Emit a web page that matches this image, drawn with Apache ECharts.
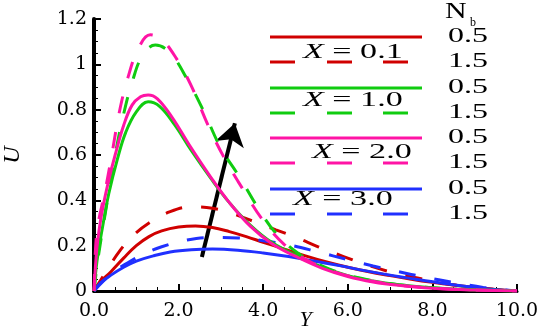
<!DOCTYPE html>
<html>
<head>
<meta charset="utf-8">
<script src="https://cdn.jsdelivr.net/npm/echarts@6/dist/echarts.min.js"></script>
<style>html,body{margin:0;padding:0;background:#fff;}#c{width:550px;height:332px;}</style>
</head>
<body>
<div id="c"></div>
<script>
// ---- data (Y, U) ----
var xTickLabels = ['0.0','2.0','4.0','6.0','8.0','10.0'];
var yTickLabels = ['0','0.2','0.4','0.6','0.8','1','1.2'];
var legendX = ['X = 0.1','X = 1.0','X = 2.0','X = 3.0'];
var nbValues = ['0.5','1.5'];

var redSolid = [[0,0],[0.15,0.04],[0.4,0.085],[0.7,0.145],[1.0,0.2],[1.3,0.24],[1.6,0.265],[2.0,0.282],[2.4,0.287],[2.8,0.28],[3.2,0.262],[3.6,0.24],[4.0,0.215],[4.5,0.185],[5.0,0.155],[5.5,0.128],[6.0,0.105],[6.5,0.085],[7.0,0.068],[7.5,0.052],[8.0,0.038],[8.5,0.026],[9.0,0.016],[9.5,0.007],[10,0]];
var redDashed = [[0,0],[0.3,0.09],[0.6,0.175],[0.9,0.24],[1.3,0.3],[1.8,0.35],[2.3,0.371],[2.8,0.365],[3.3,0.34],[3.8,0.305],[4.3,0.27],[4.8,0.235],[5.3,0.195],[5.9,0.152],[6.5,0.112],[7.1,0.08],[7.7,0.055],[8.3,0.033],[9.0,0.015],[10,0]];
var greenSolid = [[0,0],[0.05,0.1],[0.1,0.17],[0.2,0.28],[0.35,0.43],[0.55,0.58],[0.75,0.7],[1.0,0.79],[1.28,0.835],[1.55,0.815],[1.9,0.735],[2.3,0.62],[2.75,0.5],[3.2,0.39],[3.7,0.29],[4.2,0.215],[4.8,0.155],[5.4,0.105],[6.0,0.068],[6.6,0.044],[7.2,0.028],[8.0,0.014],[9.0,0.005],[10,0]];
var greenDashed = [[0,0],[0.05,0.08],[0.1,0.15],[0.3,0.38],[0.5,0.6],[0.7,0.78],[0.9,0.92],[1.15,1.04],[1.45,1.085],[1.8,1.05],[2.2,0.935],[2.6,0.79],[3.0,0.63],[3.45,0.5],[3.9,0.36],[4.3,0.255],[4.8,0.17],[5.4,0.11],[6.0,0.07],[6.6,0.045],[7.2,0.028],[8.0,0.014],[9.0,0.005],[10,0]];
var pinkSolid = [[0,0],[0.05,0.15],[0.1,0.24],[0.2,0.36],[0.35,0.49],[0.5,0.6],[0.7,0.73],[0.9,0.82],[1.1,0.857],[1.28,0.865],[1.5,0.848],[1.85,0.765],[2.25,0.645],[2.75,0.505],[3.2,0.39],[3.7,0.285],[4.2,0.21],[4.8,0.15],[5.4,0.1],[6.0,0.064],[6.6,0.04],[7.2,0.025],[8.0,0.012],[9.0,0.004],[10,0]];
var pinkDashed = [[0,0],[0.04,0.2],[0.1,0.3],[0.25,0.43],[0.42,0.6],[0.6,0.79],[0.8,0.94],[1.05,1.07],[1.33,1.13],[1.6,1.11],[1.95,1.025],[2.3,0.905],[2.7,0.73],[3.1,0.58],[3.5,0.455],[4.0,0.31],[4.5,0.205],[5.0,0.14],[5.6,0.09],[6.2,0.058],[6.8,0.036],[7.5,0.02],[8.5,0.008],[10,0]];
var blueSolid = [[0,0],[0.15,0.035],[0.4,0.07],[0.7,0.105],[1.0,0.132],[1.4,0.155],[1.8,0.172],[2.3,0.182],[2.8,0.185],[3.4,0.18],[4.0,0.168],[4.6,0.152],[5.2,0.132],[5.8,0.112],[6.4,0.09],[7.0,0.07],[7.6,0.052],[8.2,0.035],[8.8,0.02],[9.4,0.008],[10,0]];
var blueDashed = [[0,0],[0.4,0.075],[0.8,0.125],[1.2,0.165],[1.6,0.195],[2.2,0.225],[2.8,0.236],[3.4,0.234],[4.0,0.222],[4.6,0.204],[5.3,0.172],[6.0,0.138],[6.6,0.11],[7.2,0.085],[7.8,0.062],[8.5,0.038],[9.2,0.016],[10,0]];
var arrowCoords = [[2.55,0.15],[3.33,0.74]];

var colors = {red:'#d00000', green:'#10cc10', pink:'#ff14a5', blue:'#2030ff'};
var SERIF = "Liberation Serif";
var WIDE = "DejaVu Serif";

function curve(name, data, color, dashed){
  return {
    name: name, type:'line', data:data, showSymbol:false, symbol:'none',
    smooth:0.4, silent:true, animation:false,
    lineStyle:{color:color, width:3, type: dashed ? [17,19] : 'solid', cap:'butt'}
  };
}

var series = [
  curve('r05', redSolid, colors.red, false),
  curve('r15', redDashed, colors.red, true),
  curve('b05', blueSolid, colors.blue, false),
  curve('b15', blueDashed, colors.blue, true),
  curve('g05', greenSolid, colors.green, false),
  curve('g15', greenDashed, colors.green, true),
  curve('p05', pinkSolid, colors.pink, false),
  curve('p15', pinkDashed, colors.pink, true),
  {
    type:'lines', coordinateSystem:'cartesian2d', silent:true, animation:false,
    symbol:['none','arrow'], symbolSize:[15,22],
    lineStyle:{color:'#000', width:4, opacity:1},
    data:[{coords: arrowCoords}]
  }
];

// legend drawn as graphics
var legColors = [colors.red, colors.green, colors.pink, colors.blue];
var solidY = [37, 88, 138, 189];
var textPos = [[303,52],[303,100],[312,152],[293,199]];
var graphic = [];
for (var i=0;i<4;i++){
  var ys = solidY[i], yd = ys+25;
  graphic.push({type:'line', shape:{x1:270,y1:ys,x2:422,y2:ys}, style:{stroke:legColors[i], lineWidth:3}, silent:true});
  [270,327,383].forEach(function(x0){
    graphic.push({type:'line', shape:{x1:x0,y1:yd,x2:x0+25,y2:yd}, style:{stroke:legColors[i], lineWidth:3}, silent:true});
  });
  var parts = legendX[i].split(' = ');
  graphic.push({type:'text', x:textPos[i][0], y:textPos[i][1], scaleX:1.55, silent:true,
    style:{text:'{i|'+parts[0]+'} = '+parts[1], fontSize:22, fontFamily:SERIF, fill:'#000', verticalAlign:'middle', align:'left',
      rich:{i:{fontStyle:'italic', fontSize:22, fontFamily:SERIF, fill:'#000'}}}});
  graphic.push({type:'text', x:448, y:ys, scaleX:1.6, silent:true, style:{text:nbValues[0], fontSize:20, fontFamily:SERIF, fill:'#000', verticalAlign:'middle'}});
  graphic.push({type:'text', x:448, y:yd, scaleX:1.6, silent:true, style:{text:nbValues[1], fontSize:20, fontFamily:SERIF, fill:'#000', verticalAlign:'middle'}});
}
graphic.push({type:'text', x:445, y:12, scaleX:1.25, silent:true, style:{text:'N', fontSize:24, fontFamily:SERIF, fill:'#000', verticalAlign:'middle'}});
graphic.push({type:'text', x:470, y:23, silent:true, style:{text:'b', fontSize:12, fontFamily:SERIF, fill:'#000', verticalAlign:'middle'}});

var chart = echarts.init(document.getElementById('c'), null, {renderer:'canvas'});
chart.setOption({
  animation:false,
  backgroundColor:'#fff',
  grid:{left:94, right:33, top:19, bottom:41, containLabel:false, outerBoundsMode:'none'},
  xAxis:{
    type:'value', min:0, max:10, interval:2,
    name:'Y', nameLocation:'middle', nameGap:18, nameMoveOverlap:false,
    nameTextStyle:{fontFamily:SERIF, fontStyle:'italic', fontSize:22, color:'#000'},
    axisLine:{show:true, onZero:false, lineStyle:{color:'#000', width:3}},
    axisTick:{show:true, inside:true, length:7, lineStyle:{color:'#000', width:2}},
    minorTick:{show:true, splitNumber:4, length:4, lineStyle:{color:'#000', width:1}},
    splitLine:{show:false}, minorSplitLine:{show:false},
    axisLabel:{fontFamily:WIDE, fontSize:19, color:'#000', margin:11,
      formatter:function(v){ return xTickLabels[Math.round(v/2)]; }}
  },
  yAxis:{
    type:'value', min:0, max:1.2, interval:0.2,
    name:'U', nameLocation:'middle', nameGap:69, nameRotate:90, nameMoveOverlap:false,
    nameTextStyle:{fontFamily:SERIF, fontStyle:'italic', fontSize:24, color:'#000'},
    axisLine:{show:true, onZero:false, lineStyle:{color:'#000', width:4}},
    axisTick:{show:true, inside:true, length:7, lineStyle:{color:'#000', width:2}},
    minorTick:{show:true, splitNumber:4, length:4, lineStyle:{color:'#000', width:1}},
    splitLine:{show:false}, minorSplitLine:{show:false},
    axisLabel:{fontFamily:WIDE, fontSize:19, color:'#000', margin:7,
      formatter:function(v){ return yTickLabels[Math.round(v/0.2)]; }}
  },
  graphic: graphic,
  series: series
});
</script>
</body>
</html>
